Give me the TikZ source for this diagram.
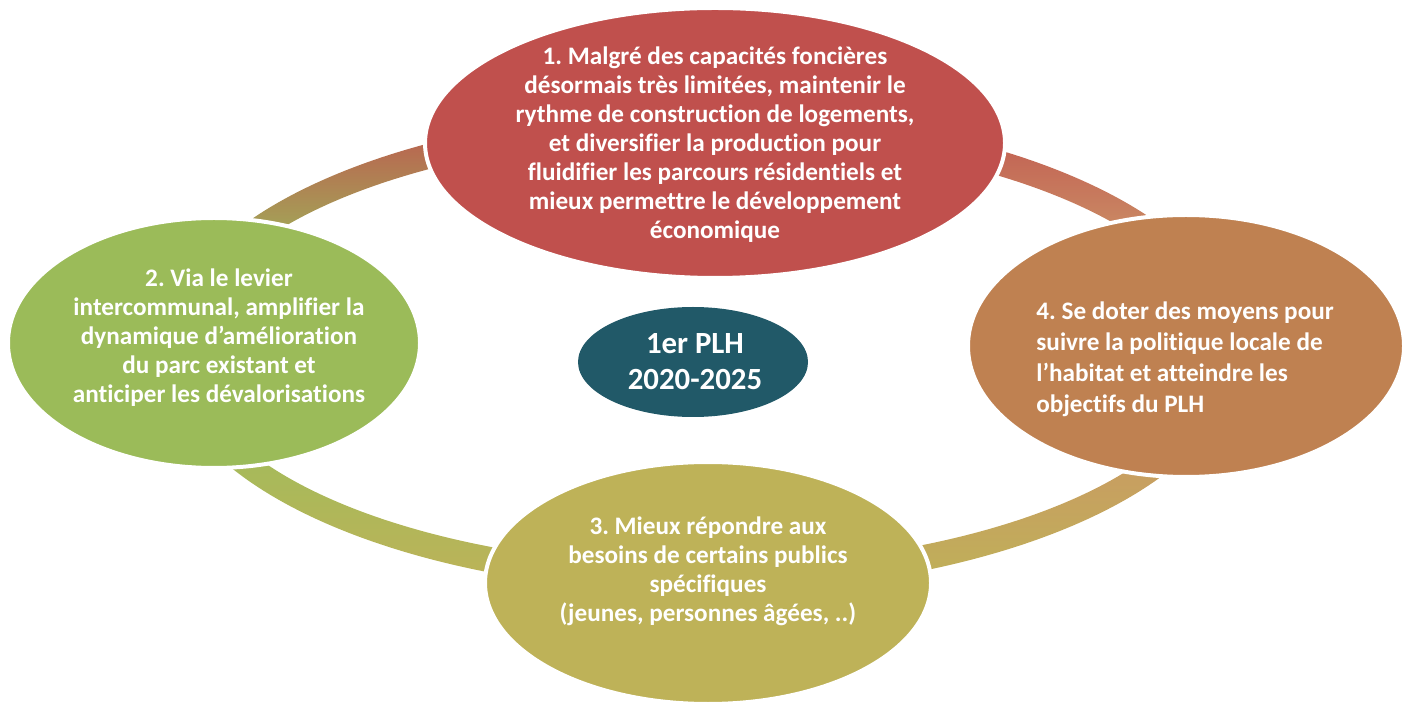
\documentclass[tikz,border=0pt]{standalone}
\usepackage{fontspec}
\setmainfont{Carlito}[Ligatures={NoCommon}]
\frenchspacing
\usetikzlibrary{shapes.geometric}
\definecolor{cred}{RGB}{192,80,77}
\definecolor{cgreen}{RGB}{155,187,89}
\definecolor{corange}{RGB}{191,129,81}
\definecolor{colive}{RGB}{190,178,88}
\definecolor{cteal}{RGB}{33,89,104}
\definecolor{rTLtop}{RGB}{192,82,78}
\definecolor{rTLbot}{RGB}{160,172,88}
\definecolor{rTRtop}{RGB}{192,84,78}
\definecolor{rTRbot}{RGB}{203,144,102}
\definecolor{rBLtop}{RGB}{166,186,90}
\definecolor{rBLbot}{RGB}{190,178,88}
\definecolor{rBRtop}{RGB}{200,158,97}
\definecolor{rBRbot}{RGB}{190,178,88}
\begin{document}
\begin{tikzpicture}[x=0.5pt,y=-0.5pt,
  bubble/.style={ellipse, draw=white, line width=2pt, inner sep=0pt},
  btext/.style={text=white, inner sep=0pt, font=\bfseries\fontsize{12.6}{14.5}\selectfont}]
\useasboundingbox (0,0) rectangle (1411,704);
% ring
\coordinate (rc) at (702,351);
\begin{scope}[even odd rule]
  \clip (rc) ellipse [x radius=538, y radius=241] (rc) ellipse [x radius=512, y radius=215];
  \shade[top color=rTLtop, bottom color=rTLbot] (0,110) rectangle (702,245);
  \fill[cgreen] (0,245) rectangle (702,460);
  \shade[top color=rBLtop, bottom color=rBLbot] (0,460) rectangle (702,592);
  \shade[top color=rTRtop, bottom color=rTRbot] (702,110) rectangle (1411,245);
  \fill[corange] (702,245) rectangle (1411,470);
  \shade[top color=rBRtop, bottom color=rBRbot] (702,470) rectangle (1411,592);
\end{scope}
% bubbles
\node[bubble, fill=cgreen, minimum width=206pt, minimum height=125pt] (e2) at (214,343) {};
\node[bubble, fill=corange, minimum width=218pt, minimum height=131pt] (e4) at (1186,346) {};
\node[bubble, fill=cred, minimum width=290pt, minimum height=135pt] (e1) at (715,143) {};
\node[bubble, fill=colive, minimum width=223pt, minimum height=121pt] (e3) at (708,583) {};
\node[ellipse, fill=cteal, inner sep=0pt, minimum width=115pt, minimum height=55pt] (ec) at (693,362) {};
% texts
\node[btext, align=center] (t1) at (715,145) {1. Malgré des capacités foncières\\désormais très limitées, maintenir le\\rythme de construction de logements,\\et diversifier la production pour\\fluidifier les parcours résidentiels et\\mieux permettre le développement\\économique};
\node[btext, align=center] (t2) at (219,338) {2. Via le levier\\intercommunal, amplifier la\\dynamique d’amélioration\\du parc existant et\\anticiper les dévalorisations};
\node[btext, align=center] (t3) at (708,571) {3. Mieux répondre aux\\besoins de certains publics\\spécifiques\\(jeunes, personnes âgées, ..)};
\node[btext, align=left, anchor=west, font=\bfseries\fontsize{12.6}{15.5}\selectfont] (t4) at (1036,359) {4. Se doter des moyens pour\\suivre la politique locale de\\l’habitat et atteindre les\\objectifs du PLH};
\node[text=white, inner sep=0pt, align=center, font=\bfseries\fontsize{15.4}{18}\selectfont] (tc) at (695,362) {1er PLH\\2020-2025};
\end{tikzpicture}
\end{document}
